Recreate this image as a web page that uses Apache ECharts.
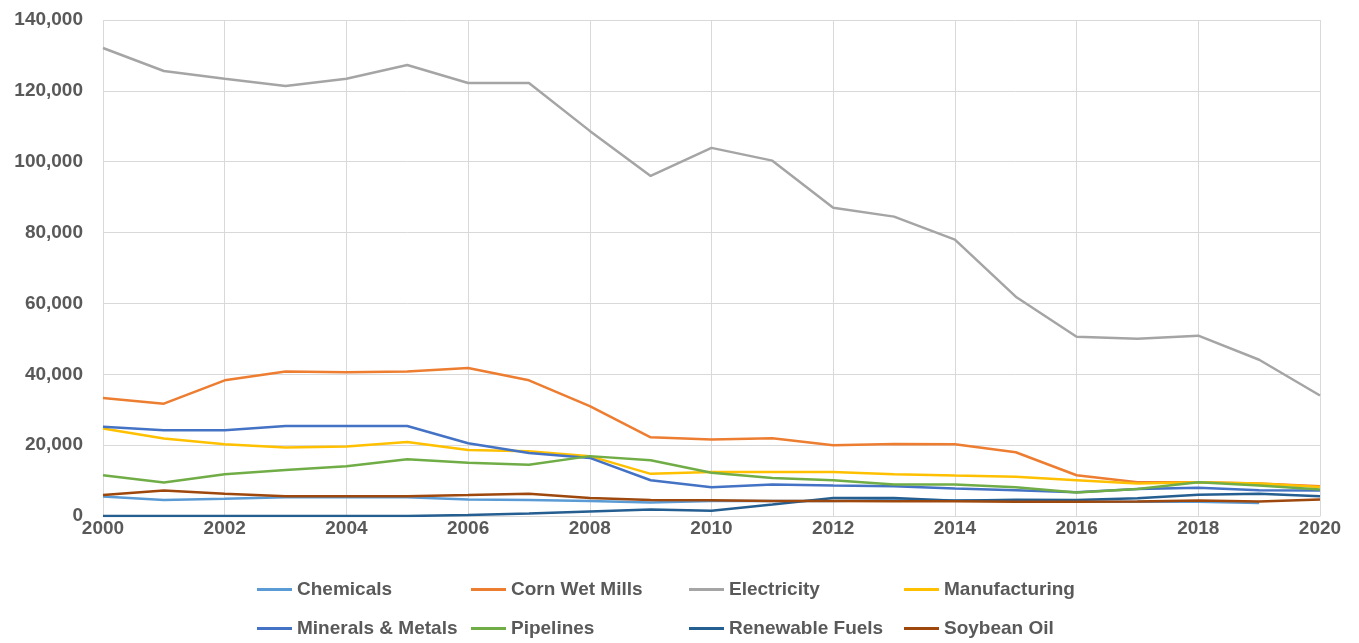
<!DOCTYPE html>
<html>
<head>
<meta charset="utf-8">
<title>Emissions by sector</title>
<script src="https://cdn.jsdelivr.net/npm/echarts@6/dist/echarts.min.js"></script>
<style>
  html, body { margin: 0; padding: 0; background: #fff; }
  #main { width: 1359px; height: 643px; }
</style>
</head>
<body>
<div id="main"></div>
<script>
// x axis categories
var years = ["2000", "2001", "2002", "2003", "2004", "2005", "2006", "2007", "2008", "2009", "2010",
  "2011", "2012", "2013", "2014", "2015", "2016", "2017", "2018", "2019", "2020"];

// series values
var chemicals = [5500, 4550, 4900, 5300, 5300, 5300, 4650, 4550, 4200, 3800, 4200, 4200, 4200, 4500, 4450, 4300, 4100, 4000, 4000, 3700, null];
var cornWetMills = [33300, 31700, 38300, 40800, 40550, 40800, 41800, 38300, 31000, 22200, 21600, 21950, 20000, 20350, 20250, 18000, 11500, 9550, 9550, 9150, 8400];
var electricity = [132100, 125600, 123400, 121400, 123400, 127300, 122200, 122200, 108700, 96000, 103900, 100300, 87000, 84500, 78000, 61900, 50600, 50000, 50900, 44100, 34000];
var manufacturing = [24700, 21850, 20250, 19300, 19600, 20900, 18650, 18300, 16900, 11900, 12450, 12450, 12450, 11800, 11400, 11050, 10100, 9150, 9550, 9150, 8200];
var mineralsMetals = [25200, 24200, 24200, 25400, 25400, 25400, 20550, 17800, 16400, 10100, 8100, 8900, 8600, 8400, 7750, 7300, 6700, 7650, 7950, 7300, 7200];
var pipelines = [11500, 9450, 11800, 13000, 14050, 16000, 15000, 14450, 16900, 15750, 12200, 10750, 10100, 8900, 8900, 8100, 6600, 7650, 9550, 8600, 7450];
var renewableFuels = [0, 0, 0, 0, 0, 0, 250, 700, 1250, 1800, 1500, 3250, 5100, 5100, 4300, 4600, 4500, 5000, 6000, 6250, 5600];
var soybeanOil = [5900, 7200, 6250, 5600, 5600, 5600, 5900, 6250, 5100, 4550, 4450, 4200, 4200, 4150, 4150, 4050, 4000, 4100, 4350, 4100, 4650];

// y axis ticks
var yMin = 0;
var yMax = 140000;
var yStep = 20000;

var names = ["Chemicals", "Corn Wet Mills", "Electricity", "Manufacturing",
  "Minerals & Metals", "Pipelines", "Renewable Fuels", "Soybean Oil"];
var values = [chemicals, cornWetMills, electricity, manufacturing,
  mineralsMetals, pipelines, renewableFuels, soybeanOil];
var colors = ["#5B9BD5", "#ED7D31", "#A5A5A5", "#FFC000", "#4472C4", "#70AD47", "#255E91", "#9E480E"];

var textStyle = {
  fontFamily: "Liberation Sans, Arial, sans-serif",
  fontWeight: "bold",
  fontSize: 19,
  color: "#595959"
};

var series = names.map(function (n, i) {
  return {
    name: n,
    type: "line",
    data: values[i],
    symbol: "none",
    smooth: false,
    connectNulls: false,
    lineStyle: { width: 2.5, color: colors[i] },
    itemStyle: { color: colors[i] }
  };
});

// legend: 4 columns x 2 rows, one legend per entry
var colLeft = [257, 471, 689, 904];
var rowTop = [580, 619];
var legends = names.map(function (n, i) {
  return {
    left: colLeft[i % 4],
    top: rowTop[Math.floor(i / 4)],
    padding: 0,
    icon: "rect",
    itemWidth: 35,
    itemHeight: 3,
    itemGap: 5,
    data: [n],
    textStyle: textStyle
  };
});

var chart = echarts.init(document.getElementById("main"), null, { renderer: "canvas" });
chart.setOption({
  animation: false,
  backgroundColor: "#fff",
  grid: { left: 103, right: 39, top: 20, bottom: 127, containLabel: false },
  legend: legends,
  xAxis: {
    type: "category",
    data: years,
    boundaryGap: false,
    axisLine: { lineStyle: { color: "#D9D9D9", width: 1 } },
    axisTick: { show: false },
    axisLabel: Object.assign({ interval: 1, margin: 3 }, textStyle),
    splitLine: { show: true, interval: 1, lineStyle: { color: "#D9D9D9", width: 1 } }
  },
  yAxis: {
    type: "value",
    min: yMin,
    max: yMax,
    interval: yStep,
    axisLine: { show: false },
    axisTick: { show: false },
    axisLabel: Object.assign({
      margin: 20,
      formatter: function (v) { return v.toLocaleString("en-US"); }
    }, textStyle),
    splitLine: { lineStyle: { color: "#D9D9D9", width: 1 } }
  },
  series: series
});
</script>
</body>
</html>
